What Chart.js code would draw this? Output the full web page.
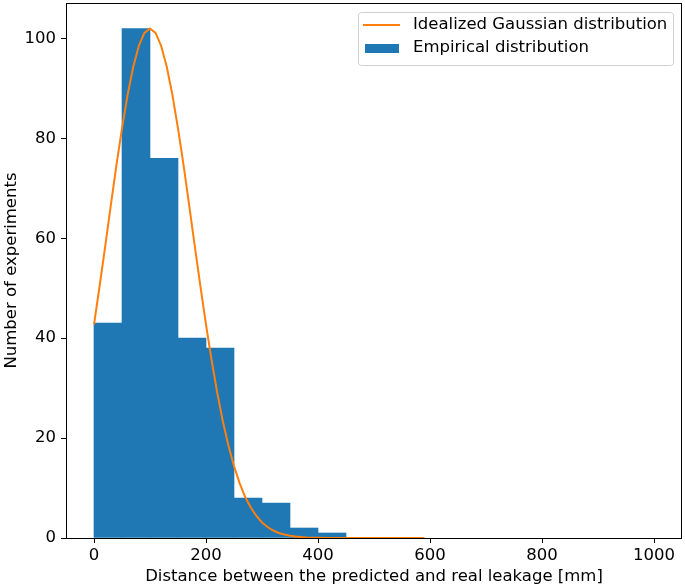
<!DOCTYPE html>
<html>
<head>
<meta charset="utf-8">
<script src="https://cdn.jsdelivr.net/npm/chart.js@4/dist/chart.umd.min.js"></script>
<style>
  html, body { margin: 0; padding: 0; background: #fff; }
  #wrap { width: 685px; height: 588px; }
</style>
</head>
<body>
<div id="wrap"><canvas id="grafico"></canvas></div>
<script>
// histograma: centro de cada faixa de 50 mm e contagem
const binCenters = [25, 75, 125, 175, 225, 275, 325, 375, 425];
const binCounts = [43, 102, 76, 40, 38, 8, 7, 2, 1];

const curveX = [0, 10, 20, 30, 40, 50, 60, 70, 80, 90, 100, 110, 120, 130, 140, 150,
  160, 170, 180, 190, 200, 210, 220, 230, 240, 250, 260, 270, 280, 290, 300,
  310, 320, 330, 340, 350, 360, 370, 380, 390, 400, 420, 440, 460, 480, 500, 520, 540, 560, 590];
const curveY = [42.7, 50.4, 58.4, 66.6, 74.6, 82.0, 88.7, 94.3, 98.5, 101.1, 102, 101.1, 98.5,
  94.3, 88.7, 82.0, 74.6, 66.6, 58.4, 50.4, 42.7, 35.6, 29.1, 23.4, 18.5, 14.4,
  11.0, 8.2, 6.1, 4.4, 3.1, 2.2, 1.5, 1.0, 0.7, 0.45, 0.3, 0.18, 0.11, 0.07, 0.04,
  0.02, 0.01, 0, 0, 0, 0, 0, 0, 0];

const xTicks = [0, 200, 400, 600, 800, 1000];
const yTicks = [0, 20, 40, 60, 80, 100];

const labelLinha = 'Idealized Gaussian distribution';
const labelBarra = 'Empirical distribution';

const fonte = { family: 'DejaVu Sans', size: 16.5 };

// moldura dos eixos e legenda no estilo matplotlib
const molduraELegenda = {
  id: 'molduraELegenda',
  afterDraw(chart) {
    const ctx = chart.ctx;
    const a = chart.chartArea;
    ctx.save();
    ctx.strokeStyle = '#000';
    ctx.lineWidth = 1;
    ctx.strokeRect(a.left + 0.5, a.top + 0.5, a.right - a.left - 1, a.bottom - a.top);

    // caixa da legenda
    const bx = a.right - 324, by = a.top + 9, bw = 315, bh = 53;
    ctx.fillStyle = 'rgba(255,255,255,0.8)';
    ctx.strokeStyle = '#d0d0d0';
    ctx.beginPath();
    ctx.roundRect(bx + 0.5, by + 0.5, bw, bh, 3);
    ctx.fill();
    ctx.stroke();

    ctx.strokeStyle = '#ff7f0e';
    ctx.lineWidth = 2;
    ctx.beginPath();
    ctx.moveTo(bx + 5, by + 13);
    ctx.lineTo(bx + 42, by + 13);
    ctx.stroke();

    ctx.fillStyle = '#1f77b4';
    ctx.fillRect(bx + 7, by + 32, 34, 9);

    ctx.fillStyle = '#000';
    ctx.font = '16.5px "DejaVu Sans"';
    ctx.textBaseline = 'middle';
    ctx.fillText(labelLinha, bx + 55, by + 13);
    ctx.fillText(labelBarra, bx + 55, by + 36);
    ctx.restore();
  }
};

const ctx = document.getElementById('grafico').getContext('2d');
const distribuicao = new Chart(ctx, {
  data: {
    datasets: [
      {
        type: 'line',
        label: labelLinha,
        data: curveX.map((x, i) => ({ x: x, y: curveY[i] })),
        borderColor: '#ff7f0e',
        borderWidth: 2,
        pointRadius: 0,
        tension: 0,
        fill: false,
        order: 0
      },
      {
        type: 'bar',
        label: labelBarra,
        data: binCenters.map((x, i) => ({ x: x, y: binCounts[i] })),
        backgroundColor: '#1f77b4',
        borderWidth: 0,
        barPercentage: 1,
        categoryPercentage: 1,
        order: 1
      }
    ]
  },
  options: {
    responsive: true,
    maintainAspectRatio: false,
    animation: false,
    layout: { padding: { left: 0, top: 3, right: 3, bottom: 0 } },
    plugins: {
      legend: { display: false },
      tooltip: { enabled: false }
    },
    scales: {
      x: {
        type: 'linear',
        offset: false,
        min: -50,
        max: 1050,
        afterBuildTicks: s => { s.ticks = xTicks.map(v => ({ value: v })); },
        afterFit: s => { s.height = 50; s.paddingLeft = 0; s.paddingRight = 0; },
        ticks: { font: fonte, color: '#000', padding: 3, maxRotation: 0, callback: v => v },
        grid: { offset: false, drawOnChartArea: false, drawTicks: true, tickLength: 5, color: '#000', tickWidth: 1 },
        border: { display: false },
        title: {
          display: true,
          text: 'Distance between the predicted and real leakage [mm]',
          font: fonte, color: '#000',
          padding: { top: 0, bottom: 1 }
        }
      },
      y: {
        type: 'linear',
        min: 0,
        max: 107.1,
        afterBuildTicks: s => { s.ticks = yTicks.map(v => ({ value: v })); },
        afterFit: s => { s.width = 66; s.paddingTop = 0; s.paddingBottom = 0; },
        ticks: { font: fonte, color: '#000', padding: 5, callback: v => v },
        grid: { drawOnChartArea: false, drawTicks: true, tickLength: 5, color: '#000', tickWidth: 1 },
        border: { display: false },
        title: {
          display: true,
          text: 'Number of experiments',
          font: fonte, color: '#000',
          padding: { top: 2, bottom: 0 }
        }
      }
    }
  },
  plugins: [molduraELegenda]
});
</script>
</body>
</html>
